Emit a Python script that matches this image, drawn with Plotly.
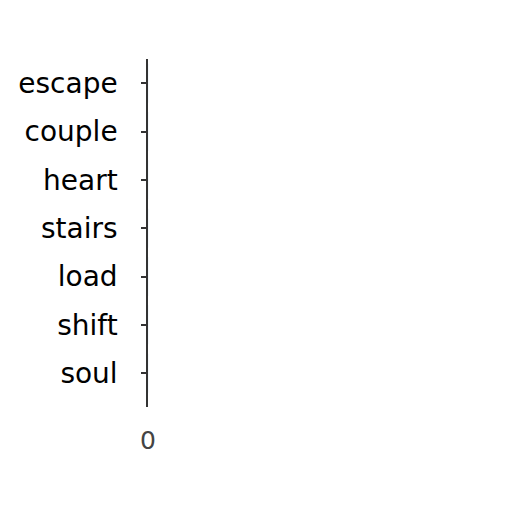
import plotly.graph_objects as go

# categories listed bottom to top, as plotly draws them
words = ["soul", "shift", "load", "stairs", "heart", "couple", "escape"]
counts = [0, 0, 0, 0, 0, 0, 0]
x_ticks = [0]

fig = go.Figure()
fig.add_trace(go.Bar(
    x=counts,
    y=words,
    orientation="h",
    marker=dict(color="#4c72b0"),
))

fig.update_layout(
    width=512, height=512,
    margin=dict(l=140, r=15, t=51, b=113),
    paper_bgcolor="white", plot_bgcolor="white",
    font=dict(family="DejaVu Sans", size=28, color="black"),
    showlegend=False,
)
fig.update_yaxes(
    type="category",
    range=[-0.7, 6.5],
    automargin=False,
    showline=True, linecolor="#333", linewidth=1.5,
    ticks="outside", ticklen=5, tickcolor="#333", tickwidth=2,
    ticklabelstandoff=18,
    showgrid=False, zeroline=False,
)
fig.update_xaxes(
    range=[0, 1],
    automargin=False,
    tickvals=x_ticks,
    ticktext=[str(v) for v in x_ticks],
    tickfont=dict(color="#444", size=25),
    showline=False, showgrid=False, zeroline=False,
    ticks="", ticklabelstandoff=16,
)

fig.write_html("out.html")
